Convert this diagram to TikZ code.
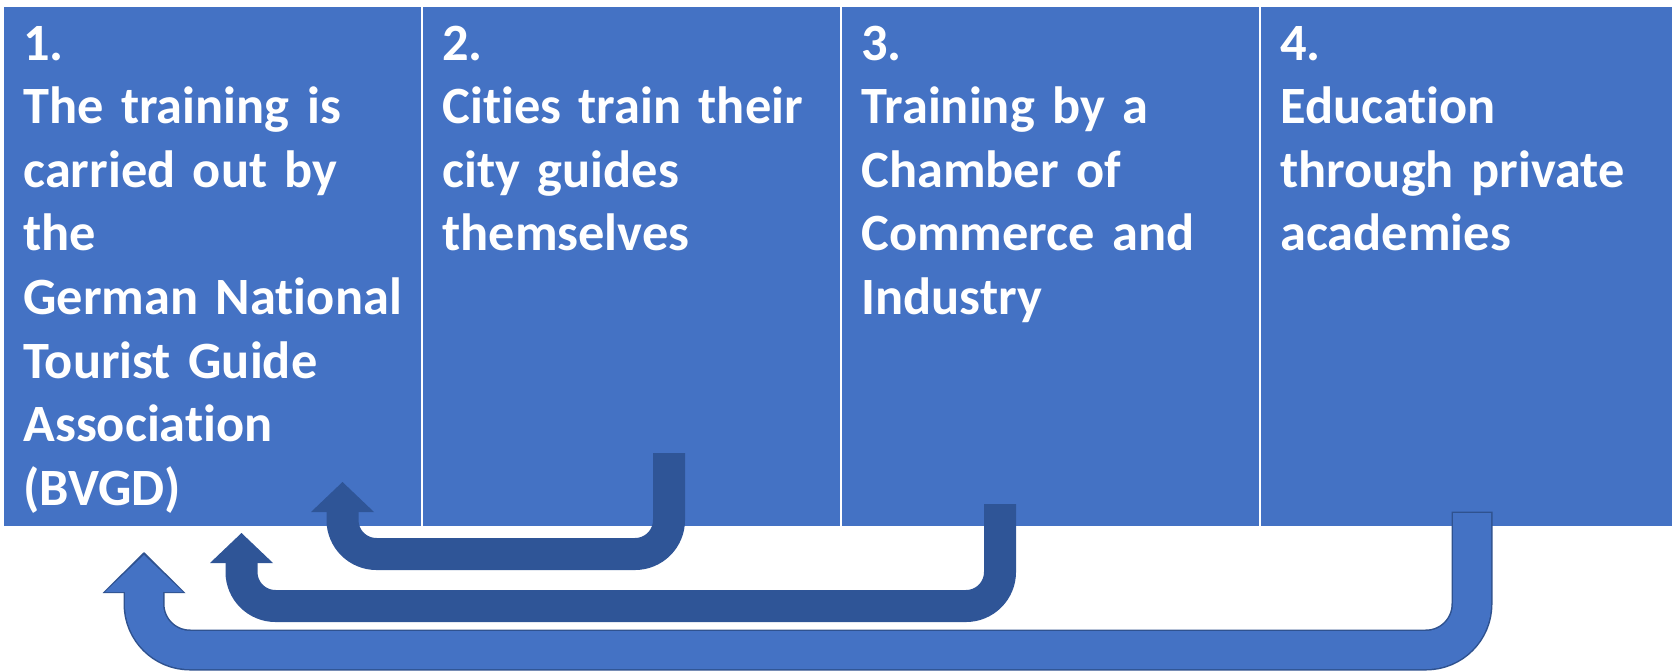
\documentclass[tikz,border=0pt]{standalone}
\usepackage{fontspec}
\setmainfont{Carlito}[Ligatures=NoCommon]
\usetikzlibrary{calc,positioning,arrows.meta}
\definecolor{boxblue}{HTML}{4472C4}
\definecolor{arrowblue}{HTML}{2F5597}
\definecolor{edgeblue}{HTML}{2F528F}

\begin{document}
\begin{tikzpicture}[
  box/.style={rectangle,fill=boxblue,inner sep=0pt,outer sep=0pt,minimum width=208.5pt,minimum height=259.5pt},
  txt/.style={anchor=base west,inner sep=0pt,text width=200pt,align=left,text=white,font=\fontsize{26.2}{31.8}\selectfont\bfseries},
  uturn/.style={line width=16pt,rounded corners=17pt,arrowblue,-{Triangle[width=31.5pt,length=15pt,line width=0pt]}}
]
\useasboundingbox (0,0) rectangle (836pt,-335pt);

\node[box,anchor=north west] (b1) at (2pt,-3.5pt) {};
\node[box,right=1pt of b1] (b2) {};
\node[box,right=1pt of b2] (b3) {};
\node[box,right=1pt of b3] (b4) {};

\node[txt] (t1) at ($ (b1.north west)+(9.5pt,-26.5pt) $) {1.\\The training is\\carried out by\\the\\German National\\Tourist Guide\\Association\\(BVGD)};
\node[txt] (t2) at ($ (b2.north west)+(9.5pt,-26.5pt) $) {2.\\Cities train their\\city guides\\themselves};
\node[txt] (t3) at ($ (b3.north west)+(9.5pt,-26.5pt) $) {3.\\Training by a\\Chamber of\\Commerce and\\Industry};
\node[txt] (t4) at ($ (b4.north west)+(9.5pt,-26.5pt) $) {4.\\Education\\through private\\academies};

% 2 -> 1
\coordinate (a2) at ($ (b2.south)+(18.75pt,36.5pt) $);
\coordinate (h2) at ($ (b1.south)+(65pt,22pt) $);
\draw[uturn] (a2) |- ($ (h2)+(0,-36pt) $) -- (h2);

% 3 -> 1
\coordinate (a3) at ($ (b3.south)+(-25.25pt,11pt) $);
\coordinate (h3) at ($ (b1.south)+(14.5pt,-3.5pt) $);
\draw[uturn] (a3) |- ($ (h3)+(0,-36.5pt) $) -- (h3);

% 4 -> 1
\coordinate (a4) at ($ (b4.south)+(1.25pt,6.5pt) $);
\coordinate (h4) at ($ (b1.south)+(-34.25pt,-13pt) $);
\draw[edgeblue,line width=20.5pt,rounded corners=23pt,shorten <=-0.75pt,-{Triangle[width=41.5pt,length=20.5pt,line width=0pt]}]
  (a4) |- ($ (h4)+(0,-49pt) $) -- (h4);
\draw[boxblue,line width=19pt,rounded corners=23pt,shorten >=1.5pt,-{Triangle[width=39pt,length=18.5pt,line width=0pt]}]
  (a4) |- ($ (h4)+(0,-49pt) $) -- (h4);

\end{tikzpicture}
\end{document}
